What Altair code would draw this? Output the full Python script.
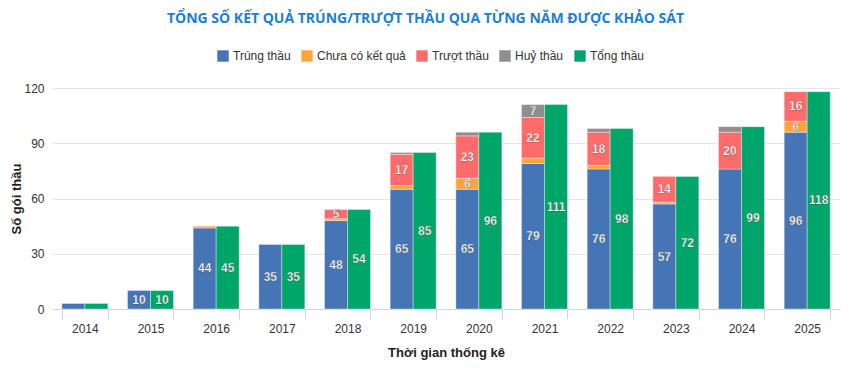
import altair as alt
import pandas as pd

years = ["2014", "2015", "2016", "2017", "2018", "2019", "2020", "2021", "2022", "2023", "2024", "2025"]
trung = [3, 10, 44, 35, 48, 65, 65, 79, 76, 57, 76, 96]
chua = [0, 0, 1, 0, 1, 2, 6, 3, 2, 1, 0, 6]
truot = [0, 0, 0, 0, 5, 17, 23, 22, 18, 14, 20, 16]
huy = [0, 0, 0, 0, 0, 1, 2, 7, 2, 0, 3, 0]
tong = [3, 10, 45, 35, 54, 85, 96, 111, 98, 72, 99, 118]

series_names = ["Trúng thầu", "Chưa có kết quả", "Trượt thầu", "Huỷ thầu", "Tổng thầu"]
colors = ["#4675b6", "#ffa43c", "#ff6b6b", "#8f8f8f", "#00a569"]

rows = []
for i, y in enumerate(years):
    for k, (name, vals) in enumerate(zip(series_names[:4], [trung, chua, truot, huy])):
        rows.append({"year": y, "group": "a", "series": name, "order": k, "value": vals[i]})
    rows.append({"year": y, "group": "b", "series": "Tổng thầu", "order": 0, "value": tong[i]})
df = pd.DataFrame(rows)

FONT = "Liberation Sans"

base = alt.Chart(df).transform_filter(
    alt.datum.value > 0
).transform_stack(
    stack="value", groupby=["year", "group"], as_=["v0", "v1"],
    sort=[alt.SortField("order", order="ascending")]
)

x_enc = alt.X(
    "year:N", sort=years,
    scale=alt.Scale(paddingInner=0.3, paddingOuter=0.15),
    axis=alt.Axis(
        title="Thời gian thống kê", labelAngle=0, tickBand="extent",
        tickSize=10, labelPadding=4, domainColor="#ccd6eb", tickColor="#ccd6eb",
        labelFontSize=12, labelColor="#333333", labelFont=FONT,
        titleFont=FONT, titleFontSize=13, titleFontWeight="bold",
        titleColor="#222222", titlePadding=12, grid=False,
    ),
)
xoff = alt.XOffset("group:N", scale=alt.Scale(paddingInner=0, paddingOuter=0))

bars = base.mark_bar(stroke="white", strokeWidth=0.6, strokeOpacity=0.6).encode(
    x=x_enc,
    xOffset=xoff,
    y=alt.Y(
        "v0:Q",
        scale=alt.Scale(domain=[0, 120], nice=False),
        axis=alt.Axis(
            values=[0, 30, 60, 90, 120], title="Số gói thầu", domain=False, ticks=False,
            gridColor="#e6e6e6", labelFontSize=12, labelColor="#333333", labelFont=FONT,
            labelPadding=8, titleFont=FONT, titleFontSize=13, titleFontWeight="bold",
            titleColor="#222222", titlePadding=0,
        ),
    ),
    y2="v1:Q",
    color=alt.Color(
        "series:N",
        scale=alt.Scale(domain=series_names, range=colors),
        legend=alt.Legend(
            title=None, orient="none", direction="horizontal",
            legendX=165, legendY=-38, symbolType="square", symbolSize=130,
            symbolStrokeWidth=0, labelFontSize=12, labelFont=FONT,
            labelColor="#333333", columnPadding=10, labelOffset=4,
        ),
    ),
)

labels = base.transform_filter(
    alt.datum.value >= 5
).transform_calculate(
    mid="(datum.v0 + datum.v1) / 2"
).mark_text(
    color="white", fontWeight="bold", fontSize=12, font=FONT,
    stroke="#333333", strokeWidth=0.25,
).encode(
    x=alt.X("year:N", sort=years),
    xOffset=alt.XOffset("group:N"),
    y=alt.Y("mid:Q"),
    text=alt.Text("value:Q"),
)

chart = alt.layer(bars, labels).properties(
    width=788,
    height=221,
    padding={"left": 44, "top": 80, "right": 10, "bottom": 60},
    autosize=alt.AutoSizeParams(type="none"),
    title=alt.TitleParams(
        "TỔNG SỐ KẾT QUẢ TRÚNG/TRƯỢT THẦU QUA TỪNG NĂM ĐƯỢC KHẢO SÁT",
        anchor="middle", frame="bounds", font="Open Sans", fontSize=14,
        fontWeight="bold", color="#1a80d6", offset=24,
    ),
).configure_view(stroke=None)

chart.save("out.html", embed_options={"renderer": "svg", "actions": False})
